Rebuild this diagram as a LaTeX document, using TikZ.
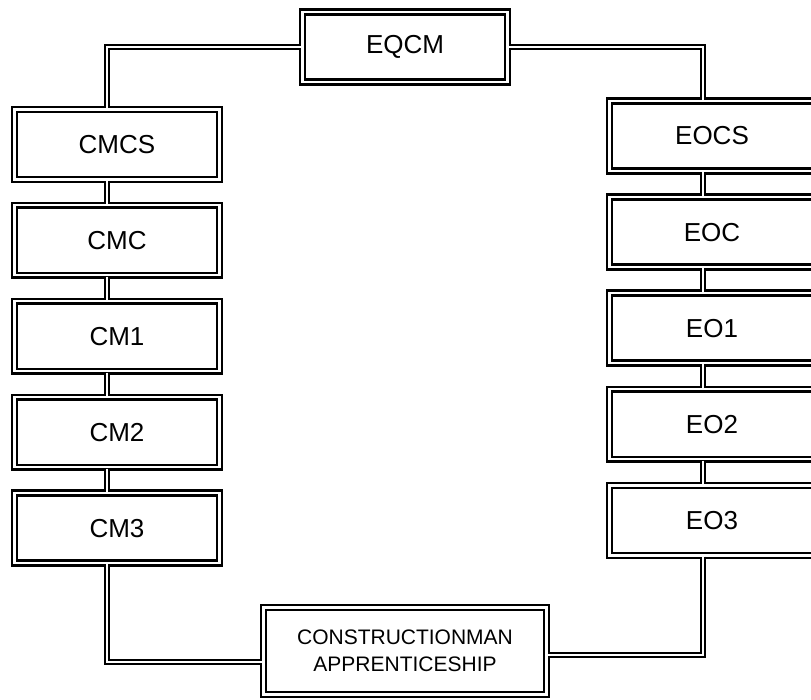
\documentclass[tikz,border=0pt]{standalone}
\usepackage{fontspec}
\setmainfont{Liberation Sans}
\usetikzlibrary{positioning}

\tikzset{
  rank/.style={draw, double, line width=2.6pt, double distance=2.2pt,
    minimum width=205pt, minimum height=70pt, inner sep=0pt,
    font=\fontsize{26}{30}\selectfont},
  link/.style={draw, double, line width=2.1pt, double distance=2.6pt},
}

\begin{document}
\begin{tikzpicture}[x=1pt, y=-1pt] % one unit = one pixel, y downwards

    \useasboundingbox (0, 0) rectangle (811, 700);
    \clip (0, 0) rectangle (811, 700);

    % Top of the ladder
    \node[rank] (eqcm) at (405, 47) {EQCM};

    % Constructionman side
    \foreach \i/\name/\label in {
            0/cmcs/CMCS,
            1/cmc/CMC,
            2/cm1/CM1,
            3/cm2/CM2,
            4/cm3/CM3
        } {
        \node[rank] (\name) at (117, 144.5 + 95.9*\i) {\label};
    }

    % Equipment operator side
    \foreach \i/\name/\label in {
            0/eocs/EOCS,
            1/eoc/EOC,
            2/eo1/EO1,
            3/eo2/EO2,
            4/eo3/EO3
        } {
        \node[rank] (\name) at (712, 136 + 96.1*\i) {\label};
    }

    % Entry level
    \node[rank, minimum width=283pt, minimum height=87pt, align=center,
          font=\fontsize{21}{27}\selectfont] (appr) at (405, 651)
        {CONSTRUCTIONMAN\\APPRENTICESHIP};

    % Corners of the connectors
    \coordinate (tl) at (107, 47);
    \coordinate (tr) at (703, 47);
    \coordinate (bl) at (107, 662);
    \coordinate (br) at (703, 655);

    % Top connectors
    \draw[link] (eqcm.west) -- (tl) -- (tl |- cmcs.north);
    \draw[link] (eqcm.east) -- (tr) -- (tr |- eocs.north);

    % Links inside each column
    \foreach \a/\b in {cmcs/cmc, cmc/cm1, cm1/cm2, cm2/cm3} {
        \draw[link] (tl |- \a.south) -- (tl |- \b.north);
    }
    \foreach \a/\b in {eocs/eoc, eoc/eo1, eo1/eo2, eo2/eo3} {
        \draw[link] (tr |- \a.south) -- (tr |- \b.north);
    }

    % Bottom connectors
    \draw[link] (bl |- cm3.south) -- (bl) -- (appr.west |- bl);
    \draw[link] (br |- eo3.south) -- (br) -- (appr.east |- br);

\end{tikzpicture}
\end{document}
